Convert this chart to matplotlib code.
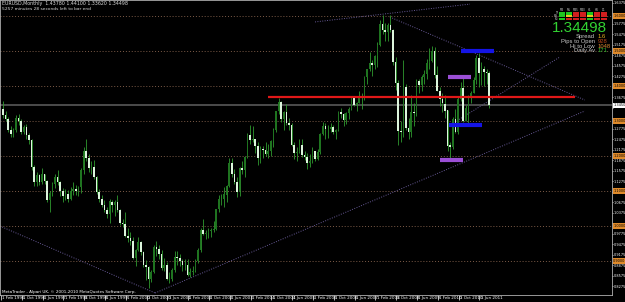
import numpy as np
import matplotlib
matplotlib.use("Agg")
import matplotlib.pyplot as plt
from matplotlib.patches import Rectangle

# EURUSD monthly candles, Feb 1996 .. Sep 2011
opens = [1.335, 1.318, 1.305, 1.275, 1.262, 1.275, 1.308, 1.300, 1.268, 1.282, 1.260,
         1.245, 1.168, 1.125, 1.145, 1.125, 1.148, 1.130, 1.075, 1.095, 1.120, 1.140, 1.125,
         1.100, 1.085, 1.092, 1.078, 1.100, 1.105, 1.100, 1.112, 1.160, 1.215, 1.195, 1.165,
         1.170, 1.140, 1.098, 1.078, 1.060, 1.045, 1.035, 1.070, 1.060, 1.068, 1.045, 1.008,
         1.005, 0.972, 0.965, 0.958, 0.910, 0.932, 0.955, 0.925, 0.888, 0.882, 0.850, 0.870,
         0.940, 0.935, 0.920, 0.880, 0.888, 0.848, 0.848, 0.875, 0.912, 0.910, 0.900, 0.888,
         0.890, 0.860, 0.870, 0.872, 0.900, 0.932, 0.988, 0.978, 0.980, 0.985, 0.988, 0.992,
         1.048, 1.078, 1.078, 1.090, 1.115, 1.180, 1.150, 1.125, 1.098, 1.165, 1.160, 1.198,
         1.260, 1.245, 1.248, 1.230, 1.195, 1.220, 1.218, 1.205, 1.215, 1.242, 1.275, 1.328,
         1.355, 1.305, 1.325, 1.295, 1.288, 1.232, 1.210, 1.212, 1.232, 1.202, 1.198, 1.180,
         1.185, 1.215, 1.192, 1.212, 1.262, 1.285, 1.278, 1.278, 1.282, 1.268, 1.275, 1.325,
         1.320, 1.302, 1.322, 1.335, 1.365, 1.345, 1.352, 1.368, 1.365, 1.425, 1.448, 1.465,
         1.460, 1.485, 1.518, 1.578, 1.560, 1.555, 1.575, 1.560, 1.468, 1.410, 1.272, 1.270,
         1.397, 1.280, 1.268, 1.325, 1.323, 1.415, 1.403, 1.425, 1.433, 1.465, 1.472, 1.500,
         1.432, 1.387, 1.362, 1.350, 1.330, 1.230, 1.225, 1.305, 1.268, 1.363, 1.393, 1.300,
         1.338, 1.368, 1.381, 1.416, 1.481, 1.438, 1.450, 1.439, 1.438]
highs = [1.356, 1.330, 1.312, 1.285, 1.280, 1.318, 1.320, 1.305, 1.290, 1.292, 1.265,
         1.248, 1.175, 1.155, 1.150, 1.165, 1.150, 1.132, 1.100, 1.125, 1.148, 1.160, 1.128,
         1.108, 1.105, 1.102, 1.110, 1.125, 1.118, 1.115, 1.165, 1.225, 1.250, 1.205, 1.185,
         1.190, 1.142, 1.105, 1.090, 1.075, 1.055, 1.078, 1.075, 1.075, 1.090, 1.050, 1.020,
         1.040, 0.995, 0.982, 0.968, 0.935, 0.968, 0.958, 0.930, 0.902, 0.885, 0.875, 0.945,
         0.957, 0.945, 0.932, 0.910, 0.898, 0.868, 0.880, 0.928, 0.930, 0.920, 0.905, 0.905,
         0.905, 0.880, 0.885, 0.905, 0.938, 0.995, 1.020, 0.990, 0.995, 0.995, 1.015, 1.050,
         1.090, 1.092, 1.110, 1.118, 1.195, 1.193, 1.162, 1.140, 1.170, 1.185, 1.200, 1.265,
         1.290, 1.285, 1.250, 1.240, 1.228, 1.230, 1.240, 1.235, 1.245, 1.280, 1.330, 1.367,
         1.357, 1.328, 1.348, 1.310, 1.295, 1.240, 1.225, 1.250, 1.250, 1.215, 1.210, 1.205,
         1.225, 1.215, 1.220, 1.265, 1.297, 1.295, 1.290, 1.295, 1.290, 1.278, 1.328, 1.337,
         1.322, 1.325, 1.340, 1.368, 1.368, 1.355, 1.385, 1.380, 1.428, 1.450, 1.497, 1.475,
         1.490, 1.525, 1.590, 1.602, 1.580, 1.580, 1.604, 1.562, 1.482, 1.418, 1.300, 1.475,
         1.405, 1.310, 1.375, 1.350, 1.420, 1.420, 1.432, 1.445, 1.478, 1.508, 1.514, 1.512,
         1.458, 1.398, 1.380, 1.375, 1.332, 1.240, 1.312, 1.333, 1.368, 1.412, 1.425, 1.345,
         1.375, 1.385, 1.425, 1.488, 1.494, 1.470, 1.458, 1.449, 1.442]
lows = [1.310, 1.300, 1.270, 1.255, 1.255, 1.270, 1.290, 1.262, 1.262, 1.250, 1.235,
        1.160, 1.115, 1.115, 1.118, 1.120, 1.120, 1.070, 1.040, 1.085, 1.108, 1.118, 1.085,
        1.070, 1.075, 1.068, 1.075, 1.090, 1.090, 1.085, 1.095, 1.150, 1.185, 1.155, 1.150,
        1.135, 1.092, 1.070, 1.055, 1.040, 1.022, 1.010, 1.040, 1.030, 1.040, 1.002, 0.998,
        0.970, 0.955, 0.945, 0.905, 0.885, 0.930, 0.918, 0.882, 0.845, 0.823, 0.840, 0.865,
        0.915, 0.905, 0.875, 0.872, 0.845, 0.838, 0.842, 0.870, 0.890, 0.885, 0.872, 0.875,
        0.858, 0.855, 0.860, 0.868, 0.895, 0.925, 0.975, 0.962, 0.965, 0.970, 0.982, 0.988,
        1.040, 1.060, 1.055, 1.068, 1.110, 1.140, 1.120, 1.082, 1.085, 1.150, 1.140, 1.195,
        1.235, 1.240, 1.208, 1.175, 1.180, 1.195, 1.200, 1.195, 1.200, 1.225, 1.270, 1.320,
        1.297, 1.275, 1.288, 1.275, 1.230, 1.192, 1.187, 1.210, 1.198, 1.190, 1.164, 1.170,
        1.180, 1.185, 1.188, 1.205, 1.260, 1.250, 1.252, 1.270, 1.262, 1.250, 1.272, 1.310,
        1.285, 1.292, 1.305, 1.332, 1.342, 1.330, 1.350, 1.335, 1.360, 1.405, 1.442, 1.430,
        1.450, 1.455, 1.515, 1.550, 1.530, 1.530, 1.555, 1.460, 1.390, 1.232, 1.240, 1.255,
        1.275, 1.250, 1.255, 1.285, 1.315, 1.380, 1.385, 1.405, 1.420, 1.450, 1.470, 1.422,
        1.385, 1.343, 1.327, 1.310, 1.214, 1.188, 1.220, 1.265, 1.262, 1.358, 1.298, 1.300,
        1.287, 1.350, 1.380, 1.405, 1.396, 1.403, 1.400, 1.405, 1.336]
closes = [1.318, 1.305, 1.275, 1.262, 1.275, 1.308, 1.300, 1.268, 1.282, 1.260, 1.245,
          1.168, 1.125, 1.145, 1.125, 1.148, 1.130, 1.075, 1.095, 1.120, 1.140, 1.125, 1.100,
          1.085, 1.092, 1.078, 1.100, 1.105, 1.100, 1.112, 1.160, 1.215, 1.195, 1.165, 1.170,
          1.140, 1.098, 1.078, 1.060, 1.045, 1.035, 1.070, 1.060, 1.068, 1.045, 1.008, 1.005,
          0.972, 0.965, 0.958, 0.910, 0.932, 0.955, 0.925, 0.888, 0.882, 0.850, 0.870, 0.940,
          0.935, 0.920, 0.880, 0.888, 0.848, 0.848, 0.875, 0.912, 0.910, 0.900, 0.888, 0.890,
          0.860, 0.870, 0.872, 0.900, 0.932, 0.988, 0.978, 0.980, 0.985, 0.988, 0.992, 1.048,
          1.078, 1.078, 1.090, 1.115, 1.180, 1.150, 1.125, 1.098, 1.165, 1.160, 1.198, 1.260,
          1.245, 1.248, 1.230, 1.195, 1.220, 1.218, 1.205, 1.215, 1.242, 1.275, 1.328, 1.355,
          1.305, 1.325, 1.295, 1.288, 1.232, 1.210, 1.212, 1.232, 1.202, 1.198, 1.180, 1.185,
          1.215, 1.192, 1.212, 1.262, 1.285, 1.278, 1.278, 1.282, 1.268, 1.275, 1.325, 1.320,
          1.302, 1.322, 1.335, 1.365, 1.345, 1.352, 1.368, 1.365, 1.425, 1.448, 1.465, 1.460,
          1.485, 1.518, 1.578, 1.560, 1.555, 1.575, 1.560, 1.468, 1.410, 1.272, 1.270, 1.397,
          1.280, 1.268, 1.325, 1.323, 1.415, 1.403, 1.425, 1.433, 1.465, 1.472, 1.500, 1.432,
          1.387, 1.362, 1.350, 1.330, 1.230, 1.225, 1.305, 1.268, 1.363, 1.393, 1.300, 1.338,
          1.368, 1.381, 1.416, 1.481, 1.438, 1.450, 1.439, 1.438, 1.34498]

date_labels = ["1 Feb 1996", "1 Oct 1996", "1 Jun 1997", "1 Feb 1998", "1 Oct 1998",
               "1 Jun 1999", "1 Feb 2000", "1 Oct 2000", "1 Jun 2001", "1 Feb 2002",
               "1 Oct 2002", "1 Jun 2003", "1 Feb 2004", "1 Oct 2004", "1 Jun 2005",
               "1 Feb 2006", "1 Oct 2006", "1 Jun 2007", "1 Feb 2008", "1 Oct 2008",
               "1 Jun 2009", "1 Feb 2010", "1 Oct 2010", "1 Jun 2011"]
date_label_bars = list(range(0, 188, 8))

# drawn objects: horizontal levels, trendlines (bar index, price), zones
hline_levels = [1.60, 1.50, 1.40, 1.30, 1.20, 1.10, 1.00, 0.90]
bid = 1.34498
red_level = 1.3686
red_span = [102, 220]
trendlines = [((-1.2, 1.000), (58.5, 0.8086)),
              ((58.5, 0.8086), (223.8, 1.3286)),
              ((148.8, 1.597), (223.8, 1.360)),
              ((120.0, 1.583), (179.6, 1.634)),
              ((173.8, 1.297), (214.2, 1.483))]
zones = [(1.500, 176.2, 188.8, "#1414e6"),
         (1.4249, 171.2, 180.0, "#9b4fd6"),
         (1.2894, 171.5, 184.2, "#1414e6"),
         (1.1894, 168.0, 177.0, "#9b4fd6")]
axis_ticks = np.arange(1.6375, 0.80, -0.03)

# signal panel (top right)
panel_cols = ["M1", "M5", "M15", "M30", "H1", "H4", "D1"]
panel_rows = ["TR", "MA", "SG"]
panel_colors = [["g", "g", "r", "r", "g", "r", "r"],
                ["g", "y", "r", "r", "y", "r", "r"],
                ["g", "r", "r", "r", "g", "r", "r"]]
info_names = ["Spread", "Pips to Open", "Hi to Low", "Daily Av"]
info_values = ["1.6", "928", "1048", "171"]
info_colors = ["#e8b020", "#b84818", "#d88a30", "#30c030"]

W, H = 625, 302
fig = plt.figure(figsize=(W / 100, H / 100), dpi=100, facecolor="black")
ax = fig.add_axes([0, 7 / H, 612 / W, 295 / H], facecolor="black")

x = np.arange(len(closes))
o = np.array(opens); c = np.array(closes)
hi = np.array(highs); lo = np.array(lows)
up = c >= o

ax.vlines(x, lo, hi, color="#2f9a2f", lw=0.6, zorder=3)
ax.bar(x[up], (c - o)[up], bottom=o[up], width=0.62, color="#1f7420", zorder=4)
ax.bar(x[~up], (o - c)[~up], bottom=c[~up], width=0.62, color="#dcf5dc", zorder=4)

for lev in hline_levels:
    ax.axhline(lev, color="#7d5c48", ls=(0, (1, 2)), lw=0.7, zorder=1)
ax.axhline(bid, color="#4c4c4c", lw=1.4, zorder=2)
ax.hlines(red_level, red_span[0], red_span[1], color="#e01818", lw=1.6, zorder=5)

for (x0, y0), (x1, y1) in trendlines:
    ax.plot([x0, x1], [y0, y1], color="#675a96", ls=(0, (1, 1.5)), lw=0.7, zorder=2)

for lev, x0, x1, col in zones:
    ax.hlines(lev, x0, x1, color=col, lw=3.0, zorder=6)

ax.set_xlim(-3 / 2.6, 609 / 2.6)
ax.set_ylim(1.60 - 279 / 350, 1.60 + 16 / 350)

# price axis on the right, squeezed into the narrow strip left of the edge
ax.yaxis.tick_right()
ax.set_yticks(axis_ticks)
marked = hline_levels + [bid]
ax.set_yticklabels(["" if min(abs(v - m) for m in marked) < 0.008 else "%.4f" % v
                    for v in axis_ticks])
ax.tick_params(axis="y", colors="white", labelsize=2.5, length=1.0, width=0.5, pad=0.3)
ytr = ax.get_yaxis_transform()
for lev in hline_levels:
    ax.text(1.002, lev, "%.4f" % lev, transform=ytr, fontsize=2.5, va="center",
            color="black", clip_on=False,
            bbox=dict(fc="#e08a2a", ec="none", pad=0.4))
ax.text(1.002, bid, "%.4f" % bid, transform=ytr, fontsize=2.5, va="center",
        color="black", clip_on=False, bbox=dict(fc="white", ec="none", pad=0.4))

# time axis: separators with the date just right of each one
ax.set_xticks(np.array(date_label_bars) - 0.8)
ax.set_xticklabels([])
ax.tick_params(axis="x", colors="white", length=3.5, width=0.5, direction="out")
xtr = ax.get_xaxis_transform()
for b, lab in zip(date_label_bars, date_labels):
    ax.text(b - 0.3, -0.004, lab, transform=xtr, fontsize=3.0, color="white",
            ha="left", va="top", clip_on=False)

for sp in ax.spines.values():
    sp.set_color("#b0b0b0")
    sp.set_linewidth(0.6)

# overlay texts, positioned in screen pixels
def px(xp, yp):
    return xp / W, 1 - yp / H

fig.text(*px(2, 3.5), "EURUSD,Monthly  1.43780 1.44100 1.33620 1.34498",
         fontsize=3.4, color="#d8d8d8", va="center")
fig.text(*px(2, 8.5), "5257 minutes 28 seconds left to bar end",
         fontsize=3.2, color="#d8d8d8", va="center")
fig.text(*px(2, 291.5), "MetaTrader - Alpari UK, \u00a9 2001-2010 MetaQuotes Software Corp.",
         fontsize=3.0, color="white", va="center")

cmap = {"g": "#1ec81e", "r": "#d21e1e", "y": "#e6c81e"}
for j, name in enumerate(panel_cols):
    fig.text(*px(561.75 + 7 * j, 10), name, fontsize=2.0, color="#c8c8c8",
             ha="center", va="center")
for r, name in enumerate(panel_rows):
    fig.text(*px(558, 13.5 + 2.6 * r), name, fontsize=1.8, color="#c8c8c8",
             ha="right", va="center")
    for j in range(len(panel_cols)):
        x0, y0 = px(559 + 7 * j, 14.6 + 2.6 * r)
        fig.add_artist(Rectangle((x0, y0), 5.5 / W, 2.3 / H,
                                 transform=fig.transFigure,
                                 fc=cmap[panel_colors[r][j]], ec="none"))

fig.text(*px(607, 28), "%.5f" % bid, fontsize=11, color="#32d232",
         ha="right", va="center", family="Liberation Sans")
for k, name in enumerate(info_names):
    yk = 36.5 + 4.8 * k
    fig.text(*px(595, yk), name, fontsize=4.2, color="#c8c8c8",
             ha="right", va="center", family="Liberation Sans")
    fig.text(*px(598, yk), info_values[k], fontsize=4.2, color=info_colors[k],
             ha="left", va="center", family="Liberation Sans")

fig.savefig("out.png", dpi=100, facecolor="black")
